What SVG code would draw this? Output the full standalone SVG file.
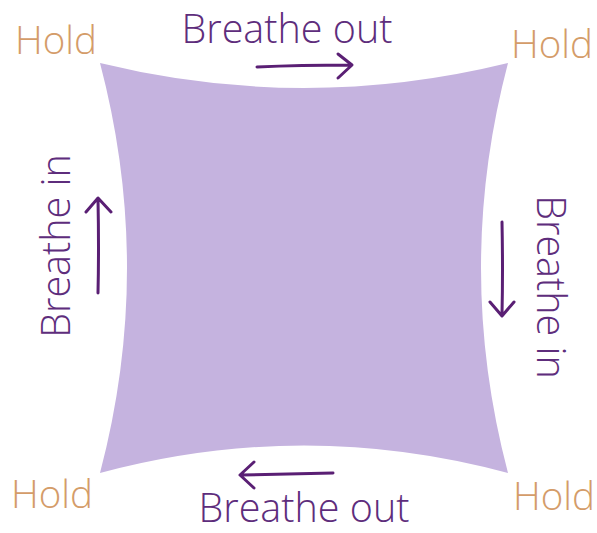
<svg xmlns="http://www.w3.org/2000/svg" width="597" height="533" viewBox="0 0 597 533">
<style>
.hold{font-family:"Open Sans","Liberation Sans",sans-serif;font-weight:300;font-size:38.5px;fill:#d49c69}
.lbl{font-family:"Open Sans","Liberation Sans",sans-serif;font-weight:300;font-size:39.5px;fill:#5e2d7c}
.arr{fill:none;stroke:#5a1f74;stroke-width:3;stroke-linecap:round;stroke-linejoin:round}
</style>
<rect width="597" height="533" fill="#fff"/>
<g id="square">
<path d="M100,63 Q304,113 508,63 Q454,268 508,473 Q304,418 100,473 Q154,268 100,63 Z" fill="#c5b3df"/>
</g>
<g id="hold-tl"><text class="hold" x="15" y="54">Hold</text></g>
<g id="hold-tr"><text class="hold" x="511" y="58">Hold</text></g>
<g id="hold-bl"><text class="hold" x="11" y="508">Hold</text></g>
<g id="hold-br"><text class="hold" x="513" y="510">Hold</text></g>
<g id="out-top"><text class="lbl" x="287" y="43" text-anchor="middle">Breathe out</text></g>
<g id="out-bottom"><text class="lbl" x="304" y="522" text-anchor="middle">Breathe out</text></g>
<g id="in-left"><text class="lbl" transform="translate(70,246) rotate(-90)" text-anchor="middle">Breathe in</text></g>
<g id="in-right"><text class="lbl" transform="translate(537,287) rotate(90)" text-anchor="middle">Breathe in</text></g>
<g id="connectors">
<path class="arr" d="M257,67 Q300,65 351,65 M338,54 L352,65 L338,78"/>
<path class="arr" d="M98,293 Q99,250 98,199 M86,212 L98,198 L111,212"/>
<path class="arr" d="M502,222 Q503,270 502,315 M490,302 L502,316 L514,302"/>
<path class="arr" d="M333,473 Q290,474 241,475 M254,462 L240,475 L254,488"/>
</g>
</svg>
